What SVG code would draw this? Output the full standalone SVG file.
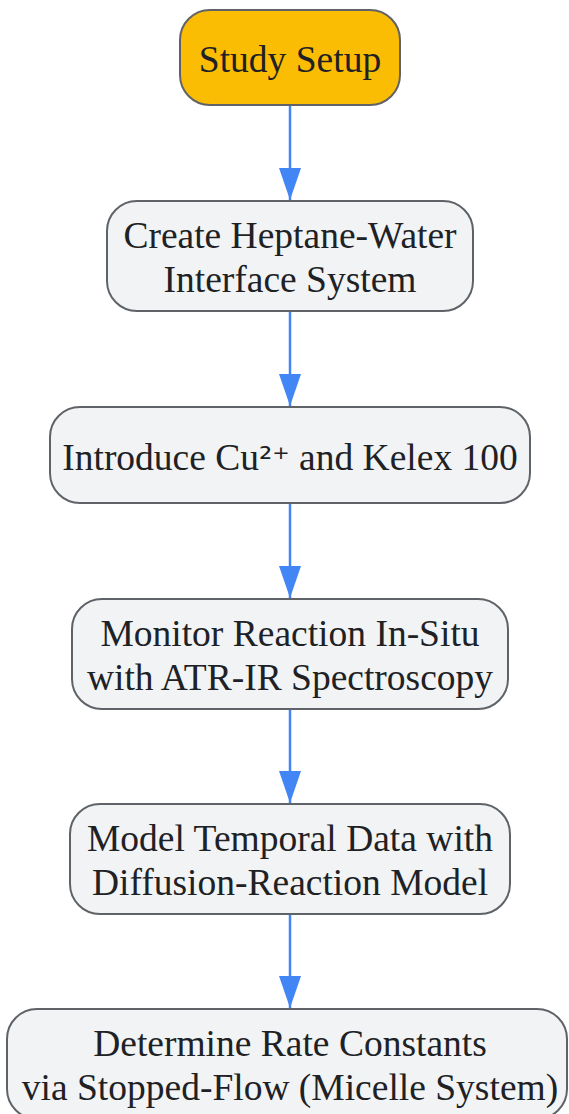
<svg xmlns="http://www.w3.org/2000/svg" width="569" height="1114" viewBox="0 0 569 1114">
<style>
.box{fill:#f1f3f4;stroke:#5f6368;stroke-width:2}
.start{fill:#fbbc04;stroke:#5f6368;stroke-width:2}
.t{font-family:"Liberation Serif","Times New Roman",serif;font-size:37.5px;fill:#202124;text-anchor:middle}
.sup{font-family:"DejaVu Sans",sans-serif;font-size:33px}
.edge{stroke:#4285f4;stroke-width:2.5;fill:none}
</style>
<defs>
<marker id="ah" viewBox="0 0 32 22" refX="32" refY="11" markerWidth="32" markerHeight="22" orient="auto" markerUnits="userSpaceOnUse">
<path d="M0,0 L32,11 L0,22 z" fill="#4285f4"/>
</marker>
</defs>
<rect width="569" height="1114" fill="#ffffff"/>
<g id="connectors">
<line class="edge" x1="290" y1="105" x2="290" y2="200" marker-end="url(#ah)"/>
<line class="edge" x1="290" y1="311" x2="290" y2="406" marker-end="url(#ah)"/>
<line class="edge" x1="290" y1="503" x2="290" y2="598" marker-end="url(#ah)"/>
<line class="edge" x1="290" y1="709" x2="290" y2="803" marker-end="url(#ah)"/>
<line class="edge" x1="290" y1="914" x2="290" y2="1008" marker-end="url(#ah)"/>
</g>
<g id="n1">
<rect class="start" x="180" y="10" width="220" height="95" rx="30"/>
<text class="t" x="290" y="72">Study Setup</text>
</g>
<g id="n2">
<rect class="box" x="107" y="201" width="366" height="110" rx="30"/>
<text class="t" x="290" y="248">Create Heptane-Water</text>
<text class="t" x="290" y="292">Interface System</text>
</g>
<g id="n3">
<rect class="box" x="50" y="407" width="480" height="96" rx="30"/>
<text class="t" x="290" y="470">Introduce Cu<tspan class="sup">²⁺</tspan> and Kelex 100</text>
</g>
<g id="n4">
<rect class="box" x="72" y="599" width="436" height="110" rx="30"/>
<text class="t" x="290" y="646">Monitor Reaction In-Situ</text>
<text class="t" x="290" y="690">with ATR-IR Spectroscopy</text>
</g>
<g id="n5">
<rect class="box" x="70" y="804" width="440" height="110" rx="30"/>
<text class="t" x="290" y="851">Model Temporal Data with</text>
<text class="t" x="290" y="895">Diffusion-Reaction Model</text>
</g>
<g id="n6">
<rect class="box" x="7" y="1009" width="560" height="110" rx="30"/>
<text class="t" x="290" y="1056">Determine Rate Constants</text>
<text class="t" x="290" y="1100">via Stopped-Flow (Micelle System)</text>
</g>
</svg>
